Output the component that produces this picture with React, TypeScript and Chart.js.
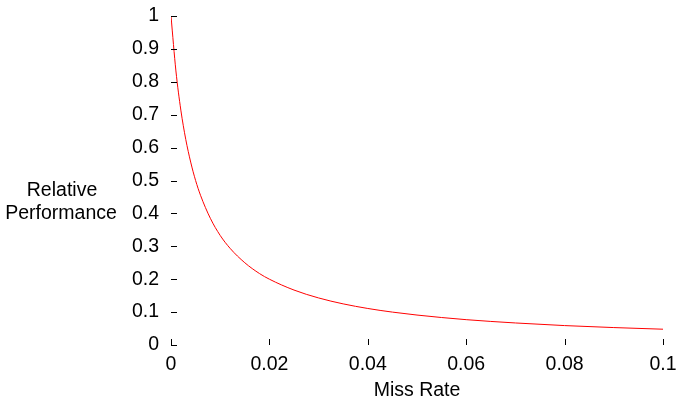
import React, { useEffect, useRef } from "react";
import { Chart, registerables } from "chart.js";

Chart.register(...registerables);

const missRates = [0, 0.001, 0.002, 0.003, 0.004, 0.005, 0.006, 0.008, 0.01, 0.012, 0.015, 0.018, 0.02, 0.025, 0.03, 0.035, 0.04, 0.045, 0.05, 0.06, 0.07, 0.08, 0.09, 0.1];
const relPerf = [1, 0.833, 0.714, 0.625, 0.556, 0.5, 0.455, 0.385, 0.333, 0.294, 0.25, 0.217, 0.2, 0.167, 0.143, 0.125, 0.111, 0.1, 0.091, 0.077, 0.067, 0.059, 0.053, 0.048];
const xTicks = [0, 0.02, 0.04, 0.06, 0.08, 0.1];
const yTicks = [0, 0.1, 0.2, 0.3, 0.4, 0.5, 0.6, 0.7, 0.8, 0.9, 1];
const xTitle = "Miss Rate";
const yTitle = ["Relative", "Performance"];

const FONT = "'Liberation Sans', Arial, sans-serif";
const FSIZE = 19.5;

const decor = {
  id: "decor",
  afterDraw(chart: any) {
    const ctx = chart.ctx;
    const xs = chart.scales.x;
    const ys = chart.scales.y;
    const area = chart.chartArea;
    ctx.save();
    ctx.strokeStyle = "#000";
    ctx.lineWidth = 1;
    ctx.beginPath();
    for (const v of yTicks) {
      const py = Math.round(ys.getPixelForValue(v)) + 0.5;
      ctx.moveTo(area.left, py);
      ctx.lineTo(area.left + 6, py);
    }
    for (const v of xTicks) {
      const px = Math.round(xs.getPixelForValue(v)) + 0.5;
      ctx.moveTo(px, area.bottom);
      ctx.lineTo(px, area.bottom - 6);
    }
    ctx.stroke();
    ctx.fillStyle = "#000";
    ctx.font = `${FSIZE}px ${FONT}`;
    ctx.textAlign = "center";
    ctx.textBaseline = "middle";
    ctx.fillText(yTitle[0], 62, 191);
    ctx.fillText(yTitle[1], 61, 214);
    ctx.fillText(xTitle, (area.left + area.right) / 2, 391);
    ctx.restore();
  },
};

export default function App() {
  const ref = useRef<HTMLCanvasElement>(null);
  useEffect(() => {
    document.body.style.margin = "0";
    const chart = new Chart(ref.current!, {
      type: "line",
      data: {
        datasets: [
          {
            data: missRates.map((m, i) => ({ x: m, y: relPerf[i] })),
            borderColor: "#ff0000",
            borderWidth: 1,
            pointRadius: 0,
            cubicInterpolationMode: "monotone",
            fill: false,
          },
        ],
      },
      options: {
        animation: false,
        responsive: false,
        layout: { padding: { top: 16, right: 16, left: 0, bottom: 0 } },
        plugins: { legend: { display: false }, tooltip: { enabled: false } },
        scales: {
          x: {
            type: "linear",
            min: 0,
            max: 0.1,
            border: { display: false },
            grid: { display: false, drawTicks: false },
            afterBuildTicks: (s: any) => { s.ticks = xTicks.map((v) => ({ value: v })); },
            afterFit: (s: any) => { s.height = 57; s.paddingLeft = 0; s.paddingRight = 0; },
            ticks: {
              padding: 8,
              color: "#000",
              font: { family: FONT, size: FSIZE },
              maxRotation: 0,
              autoSkip: false,
              callback: (v: any) => String(v),
            },
          },
          y: {
            type: "linear",
            min: 0,
            max: 1,
            border: { display: false },
            grid: { display: false, drawTicks: false },
            afterBuildTicks: (s: any) => { s.ticks = yTicks.map((v) => ({ value: v })); },
            afterFit: (s: any) => { s.width = 171; s.paddingTop = 0; s.paddingBottom = 0; },
            ticks: {
              padding: 12,
              color: "#000",
              font: { family: FONT, size: FSIZE },
              autoSkip: false,
              callback: (v: any) => String(v),
            },
          },
        },
      },
      plugins: [decor],
    });
    return () => chart.destroy();
  }, []);
  return <canvas ref={ref} width={679} height={402} style={{ display: "block" }} />;
}
